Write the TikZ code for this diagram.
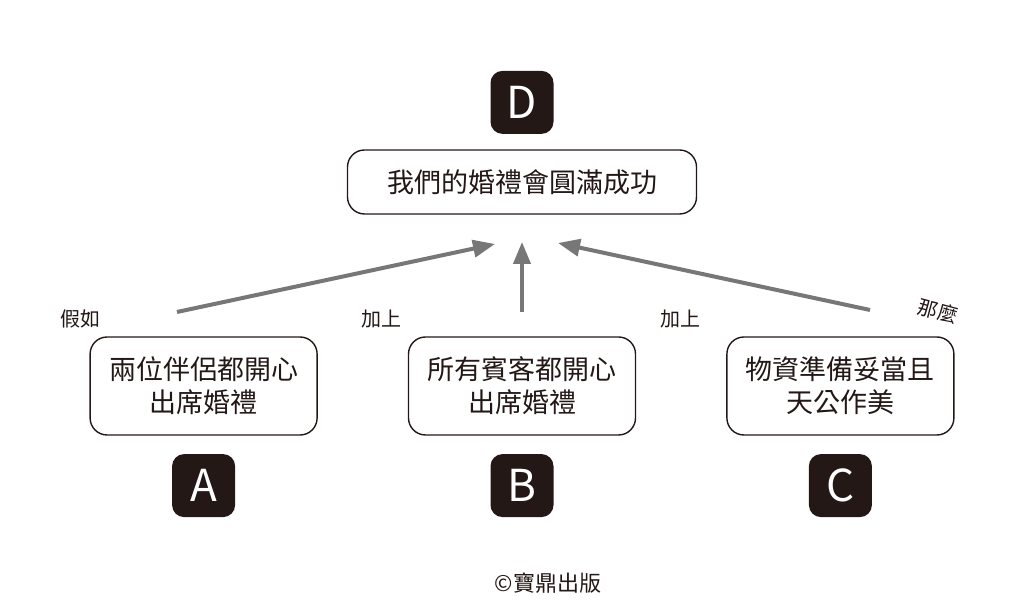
\documentclass[tikz,border=0pt]{standalone}
\usepackage{fontspec}
\setmainfont{Noto Sans CJK TC}
\newfontfamily\cjk{Noto Sans CJK TC}
\usetikzlibrary{arrows.meta,positioning}

\definecolor{ink}{HTML}{231815}
\definecolor{arrowgray}{HTML}{777777}

\begin{document}
\begin{tikzpicture}[x=1pt, y=1pt, node distance=90pt, thick]
    \tikzstyle{box} = [rectangle, draw=ink, line width=1.4pt, rounded corners=17pt, text=ink, align=center, minimum width=227pt, minimum height=98pt, font=\cjk\fontsize{27}{33}\selectfont]
    \tikzstyle{badge} = [rectangle, fill=ink, rounded corners=12pt, minimum size=63pt, text=white, font=\cjk\fontsize{44}{44}\selectfont]
    \tikzstyle{arrow} = [-{Triangle[length=22pt, width=17pt]}, draw=arrowgray, line width=4pt]
    \tikzstyle{word} = [text=ink, font=\cjk\fontsize{20}{20}\selectfont]

    \useasboundingbox (0,0) rectangle (1024,609);

    % the three conditions
    \node [box] (both) at (522,223) {所有賓客都開心\\出席婚禮};
    \node [box, left=of both] (pair) {兩位伴侶都開心\\出席婚禮};
    \node [box, right=of both] (ready) {物資準備妥當且\\天公作美};
    \node [box, minimum width=349pt, minimum height=64pt] (goal) at (522,427) {我們的婚禮會圓滿成功};

    % letters
    \node [badge, below=18pt of pair] (A) {A};
    \node [badge, below=18pt of both] (B) {B};
    \node [badge, below=18pt of ready] (C) {C};
    \node [badge, above=15pt of goal] (D) {D};

    % arrow ends
    \coordinate (fromA) at (177,297);
    \coordinate (fromB) at (522,297);
    \coordinate (fromC) at (870,299);
    \coordinate (toA) at (495,365);
    \coordinate (toB) at (522,367);
    \coordinate (toC) at (558,366);

    \draw [arrow] (fromA) -- (toA);
    \draw [arrow] (fromB) -- (toB);
    \draw [arrow] (fromC) -- (toC);

    \node [word] (if) at (80,290) {假如};
    \node [word] (plus1) at (381,290) {加上};
    \node [word] (plus2) at (680,290) {加上};
    \node [word, rotate=-15, inner sep=1pt] (then) at (938,298) {那麼};

    \node [text=ink, font=\cjk\fontsize{22}{22}\selectfont] (credit) at (548,26) {©寶鼎出版};
\end{tikzpicture}
\end{document}
